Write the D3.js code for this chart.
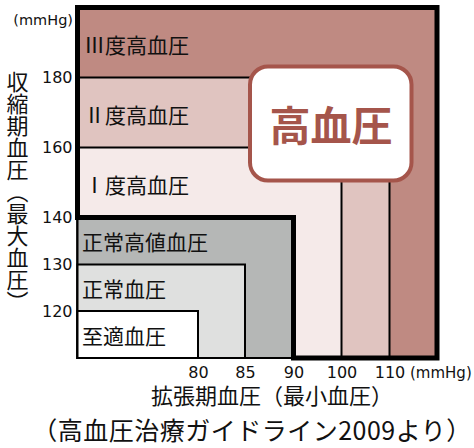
<!DOCTYPE html>
<html>
<head>
<meta charset="utf-8">
<script src="https://cdn.jsdelivr.net/npm/d3@7"></script>
<style>
  html, body { margin: 0; padding: 0; background: #fff; }
  svg { display: block; }
  text { font-family: "Noto Sans CJK JP", "Noto Sans", sans-serif; }
  .num { font-family: "DejaVu Sans", sans-serif; }
</style>
</head>
<body>
<svg id="chart" width="474" height="448"></svg>
<script>
// ---- data ----
const categories = ["至適血圧", "正常血圧", "正常高値血圧", "Ⅰ度高血圧", "Ⅱ度高血圧", "Ⅲ度高血圧"];
// upper systolic limit (mmHg) of each category
const systolicLimits = [120, 130, 140, 160, 180, 200];
// upper diastolic limit (mmHg) of each category
const diastolicLimits = [80, 85, 90, 100, 110, 120];
const categoryColors = ["#ffffff", "#dfe0df", "#b5b7b6", "#f5eae9", "#e0c4c0", "#bf8a82"];
const yTickValues = [120, 130, 140, 160, 180];
const xTickValues = [80, 85, 90, 100, 110];
const unitLabel = "(mmHg)";
const yTitle = "収縮期血圧（最大血圧）";
const xTitle = "拡張期血圧（最小血圧）";
const sourceNote = "（高血圧治療ガイドライン2009より）";
const badgeLabel = "高血圧";

// ---- scales (piecewise: chart uses uneven bands) ----
const xMinVal = 67.5, yMinVal = 110;
const x = d3.scaleLinear()
  .domain([xMinVal, 80, 85, 90, 100, 110, 120])
  .range([77.5, 198, 245, 293.5, 341.5, 389.5, 437]);
const y = d3.scaleLinear()
  .domain([yMinVal, 120, 130, 140, 160, 180, 200])
  .range([358, 311, 264.5, 217.5, 147.5, 77.5, 7.5]);

const svg = d3.select("#chart");
const g = svg.append("g");

const idx = d3.range(categories.length);
const hyper = idx.filter(i => i >= 3).reverse();   // III, II, I
const normal = idx.filter(i => i < 3).reverse();   // normal-high, normal, optimal

// hypertension regions (drawn largest first)
hyper.forEach(i => {
  g.append("rect")
    .attr("x", x(xMinVal))
    .attr("y", y(systolicLimits[i]))
    .attr("width", x(diastolicLimits[i]) - x(xMinVal))
    .attr("height", y(yMinVal) - y(systolicLimits[i]))
    .attr("fill", categoryColors[i])
    .attr("stroke", i === 5 ? "none" : "#000")
    .attr("stroke-width", 2);
});

// normal regions
normal.forEach(i => {
  g.append("rect")
    .attr("x", x(xMinVal))
    .attr("y", y(systolicLimits[i]))
    .attr("width", x(diastolicLimits[i]) - x(xMinVal))
    .attr("height", y(yMinVal) - y(systolicLimits[i]))
    .attr("fill", categoryColors[i])
    .attr("stroke", "#000")
    .attr("stroke-width", 2);
});

// thick frame around hypertension L-shape
const nh = 2; // normal-high index
const frame = d3.path();
frame.moveTo(x(xMinVal), y(systolicLimits[nh]));
frame.lineTo(x(xMinVal), y(systolicLimits[5]));
frame.lineTo(x(diastolicLimits[5]), y(systolicLimits[5]));
frame.lineTo(x(diastolicLimits[5]), y(yMinVal));
frame.lineTo(x(diastolicLimits[nh]), y(yMinVal));
frame.lineTo(x(diastolicLimits[nh]), y(systolicLimits[nh]));
frame.closePath();
g.append("path")
  .attr("d", frame.toString())
  .attr("fill", "none")
  .attr("stroke", "#000")
  .attr("stroke-width", 5)
  .attr("stroke-linejoin", "miter");

// category labels
idx.forEach(i => {
  const lower = i === 0 ? yMinVal : systolicLimits[i - 1];
  const cy = (y(lower) + y(systolicLimits[i])) / 2 + (i >= 3 ? 1.5 : 0);
  g.append("text")
    .attr("x", i >= 3 ? 84 : 82)
    .attr("y", cy)
    .attr("dominant-baseline", "central")
    .attr("font-size", 21)
    .attr("fill", "#111")
    .text(categories[i]);
});

// axes
const yAxis = d3.axisLeft(y).tickValues(yTickValues).tickSize(0).tickPadding(5).tickFormat(d3.format("d"));
const yg = svg.append("g").attr("transform", `translate(${x(xMinVal)},0)`).call(yAxis);
yg.select(".domain").remove();
yg.selectAll("text").attr("class", "num").attr("font-size", 16).attr("fill", "#111");

const xAxis = d3.axisBottom(x).tickValues(xTickValues).tickSize(0).tickPadding(9).tickFormat(d3.format("d"));
const xg = svg.append("g").attr("transform", `translate(0,${y(yMinVal)})`).call(xAxis);
xg.select(".domain").remove();
xg.selectAll("text").attr("class", "num").attr("font-size", 16).attr("fill", "#111");

// unit labels
svg.append("text").attr("class", "num")
  .attr("x", 73).attr("y", 25).attr("text-anchor", "end")
  .attr("font-size", 14.5).attr("fill", "#111").text(unitLabel);
svg.append("text").attr("class", "num")
  .attr("x", 410).attr("y", y(yMinVal) + 9 + 0.71 * 16)
  .attr("font-size", 15).attr("fill", "#111").text(unitLabel);

// axis titles
svg.append("text")
  .attr("x", 17.5).attr("y", 71)
  .style("writing-mode", "vertical-rl")
  .attr("font-size", 22).attr("fill", "#111")
  .text(yTitle);
svg.append("text")
  .attr("x", 151).attr("y", 393.5)
  .attr("dominant-baseline", "central")
  .attr("font-size", 22).attr("fill", "#111")
  .text(xTitle);

// source note
svg.append("text")
  .attr("x", 252).attr("y", 428.5)
  .attr("text-anchor", "middle")
  .attr("dominant-baseline", "central")
  .attr("font-size", 25)
  .attr("letter-spacing", 0.5)
  .attr("fill", "#111")
  .text(sourceNote);

// badge
const badge = svg.append("g");
badge.append("rect")
  .attr("x", 250).attr("y", 66.5)
  .attr("width", 161.5).attr("height", 114)
  .attr("rx", 18).attr("ry", 18)
  .attr("fill", "#fff")
  .attr("stroke", "#a5554b")
  .attr("stroke-width", 4);
badge.append("text")
  .attr("x", 331).attr("y", 123)
  .attr("text-anchor", "middle")
  .attr("dominant-baseline", "central")
  .attr("font-size", 41)
  .attr("font-weight", "bold")
  .attr("fill", "#a5554b")
  .text(badgeLabel);
</script>
</body>
</html>
